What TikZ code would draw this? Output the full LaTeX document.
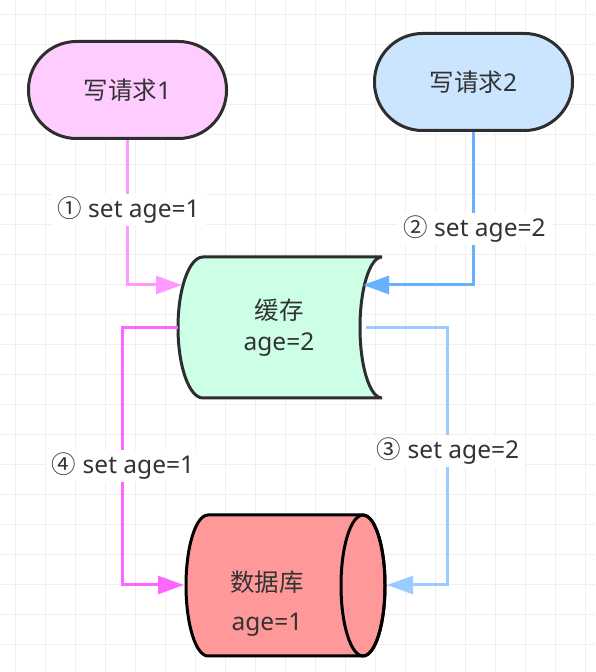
\documentclass[tikz,border=0pt]{standalone}
\usepackage{fontspec}
\setmainfont{Noto Sans}
\newfontfamily\cjk{Noto Sans CJK SC}
\usetikzlibrary{arrows.meta}
\definecolor{gridc}{HTML}{EFEFEF}
\definecolor{edge}{HTML}{2E2E2E}
\definecolor{textc}{HTML}{333333}
\definecolor{pinkfill}{HTML}{FFCCFF}
\definecolor{bluefill}{HTML}{CCE5FF}
\definecolor{mintfill}{HTML}{CCFFE6}
\definecolor{redfill}{HTML}{FF9999}
\definecolor{cA}{HTML}{FF99FF}
\definecolor{cB}{HTML}{66B2FF}
\definecolor{cC}{HTML}{99CCFF}
\definecolor{cD}{HTML}{FF66FF}
\begin{document}
\begin{tikzpicture}[x=1pt,y=1pt,
  txt/.style={font=\fontsize{24.5}{31}\selectfont, text=textc},
  box/.style={draw=edge, line width=3pt, rounded corners=48pt, minimum width=198pt, minimum height=97pt, txt},
  conn/.style={line width=3pt, -{Triangle[length=26pt,width=18pt]}},
  lbl/.style={fill=white, txt, inner xsep=6pt, inner ysep=3pt}]
\useasboundingbox (0,0) rectangle (595,672);
\fill[white] (0,0) rectangle (595,672);
\foreach \i in {0,...,19} \draw[gridc, line width=1pt] (15+30*\i,0) -- ++(0,672);
\foreach \j in {0,...,21} \draw[gridc, line width=1pt] (0,657-30*\j) -- ++(595,0);

% request nodes
\node[box, fill=pinkfill] (req1) at (127.5,582) {{\cjk 写请求}1};
\node[box, fill=bluefill] (req2) at (473.5,590) {{\cjk 写请求}2};

% cache (stored data shape)
\draw[edge, line width=3pt, fill=mintfill] (203,415) -- (382,415)
  arc[start angle=90, end angle=270, x radius=22, y radius=70.5]
  -- (203,274)
  arc[start angle=270, end angle=90, x radius=25, y radius=70.5] -- cycle;
\node[txt, align=center] (cache) at (279,344) {{\cjk 缓存}\\age=2};

% database (horizontal cylinder)
\draw[black, line width=3pt, fill=redfill] (208,157) -- (363,157)
  arc[start angle=90, end angle=-90, x radius=22, y radius=70.5]
  -- (208,16)
  arc[start angle=270, end angle=90, x radius=22, y radius=70.5] -- cycle;
\draw[black, line width=3pt] (363,86.5) ellipse[x radius=22, y radius=70.5];
\node[txt, align=center, font=\fontsize{24.5}{39}\selectfont] (db) at (267,68) {{\cjk 数据库}\\age=1};

% connector end points
\coordinate (aEnd) at (182,387);
\coordinate (bEnd) at (363,387);
\coordinate (cStart) at (366,344);
\coordinate (cTurn) at (447,87);
\coordinate (cEnd) at (387,87);
\coordinate (dStart) at (178,344);
\coordinate (dTurn) at (122,87);
\coordinate (dEnd) at (184,87);

\draw[conn, cA] (req1.south) |- (aEnd);
\draw[conn, cB] (req2.south) |- (bEnd);
\draw[conn, cC] (cStart) -| (cTurn) -- (cEnd);
\draw[conn, cD] (dStart) -| (dTurn) -- (dEnd);

% labels
\node[lbl] (l1) at (128.5,462) {{\cjk ①} set age=1};
\node[lbl] (l2) at (474.5,443) {{\cjk ②} set age=2};
\node[lbl] (l3) at (448,221) {{\cjk ③} set age=2};
\node[lbl] (l4) at (123,206) {{\cjk ④} set age=1};
\end{tikzpicture}
\end{document}
